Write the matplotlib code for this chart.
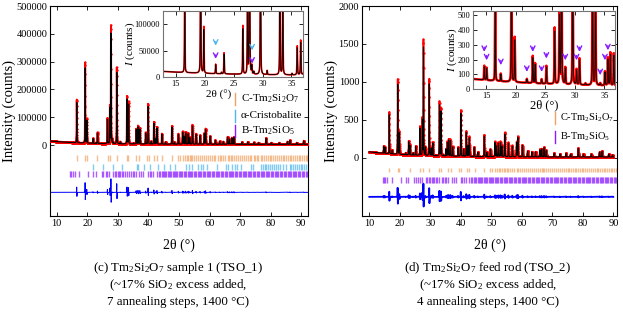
import numpy as np
import matplotlib
matplotlib.use("Agg")
import matplotlib.pyplot as plt

plt.rcParams["font.family"] = ["Liberation Serif", "DejaVu Serif"]
plt.rcParams["mathtext.fontset"] = "custom"
plt.rcParams["mathtext.rm"] = "Liberation Serif"
plt.rcParams["mathtext.it"] = "Liberation Serif:italic"
plt.rcParams["xtick.direction"] = "in"
plt.rcParams["ytick.direction"] = "in"

# ---- data ----
# peak positions (2theta) and net heights above background, TSO_1
pos1 = [16.55, 19.3, 19.85, 21.9, 22.9, 23.35, 26.6, 27.4, 27.75, 28.15, 28.5,
        29.65, 30.8, 33.0, 33.5, 35.1, 36.0, 36.6, 37.2, 39.1, 39.9, 40.9, 41.8,
        42.4, 42.8, 44.4, 45.6, 47.7, 48.5, 49.8, 51.2, 51.6, 52.2, 53.0, 53.5,
        54.4, 55.6, 56.9, 58.3, 58.7, 60.2, 61.9, 63.3, 64.5, 65.9, 66.5, 67.3,
        68.0, 70.6, 72.5, 74.5, 76.0, 78.5, 80.2, 82.8, 85.5, 86.3, 88.5, 90.8]
hgt1 = [155000, 290000, 88000, 18000, 3000, 40000, 92000, 135000, 425000, 16000, 5000,
        275000, 8000, 172000, 152000, 3000, 55000, 66000, 58000, 42000, 145000, 10000, 80000,
        20000, 62000, 38000, 8000, 66000, 8000, 38000, 46000, 30000, 44000, 40000, 25000,
        70000, 38000, 33000, 40000, 56000, 30000, 15000, 11000, 10000, 27000, 20000, 24000,
        27000, 8000, 9000, 7000, 6000, 23000, 6000, 6000, 10000, 15000, 6000, 13000]

# TSO_2
pos2 = [14.7, 15.1, 16.55, 17.5, 19.3, 19.85, 21.9, 22.9, 23.3, 24.4, 25.2, 26.6,
        27.4, 27.75, 28.4, 29.65, 30.3, 30.8, 31.8, 33.0, 33.5, 34.3, 35.1, 35.6,
        36.0, 36.6, 37.3, 39.1, 40.0, 40.9, 41.8, 42.4, 42.8, 44.4, 45.6, 47.7,
        48.5, 49.7, 51.2, 51.6, 52.3, 53.0, 53.5, 54.4, 55.6, 56.9, 58.3, 58.7,
        60.2, 61.9, 63.3, 64.5, 65.9, 66.5, 67.3, 68.0, 70.6, 72.5, 74.5, 76.0,
        78.5, 80.2, 82.8, 85.5, 86.3, 88.5, 89.7]
hgt2 = [97, 85, 550, 52, 990, 305, 27, 185, 136, 30, 122, 383,
        492, 1523, 114, 1012, 105, 180, 12, 718, 631, 15, 96, 190,
        225, 220, 130, 120, 610, 100, 335, 150, 262, 128, 60, 287,
        60, 100, 200, 150, 190, 200, 150, 320, 190, 150, 200, 270,
        160, 80, 70, 70, 100, 110, 130, 90, 50, 40, 50, 40,
        120, 40, 40, 70, 80, 40, 30]

# reflection markers
ticks_c = [16.55, 19.3, 19.85, 23.3, 26.75, 27.45, 29.65, 32.95, 33.45, 35.95, 36.8,
           39.45, 40.1, 41.95, 42.75, 44.6, 47.7, 49.55, 50.35, 51.2, 52.0, 52.6, 53.0,
           53.5, 54.0, 54.4, 55.0, 55.6, 56.2, 56.9, 57.5, 58.3, 58.7, 59.4, 60.2, 60.8,
           61.5, 61.9, 62.6, 63.3, 63.9, 64.5, 65.2, 65.9, 66.5, 67.0, 67.3, 68.0, 68.6,
           69.2, 69.8, 70.6, 71.2, 71.8, 72.5, 73.1, 73.7, 74.5, 75.0, 75.6, 76.0, 76.7,
           77.3, 77.9, 78.5, 79.1, 79.7, 80.2, 80.8, 81.4, 82.0, 82.8, 83.3, 83.9, 84.5,
           85.0, 85.5, 86.3, 86.8, 87.4, 88.0, 88.5, 89.1, 89.7, 90.3, 90.8, 91.4, 91.9]
ticks_cr = [22.0, 25.2, 28.5, 31.4, 36.1, 36.5, 38.5, 40.5, 43.0, 45.1, 47.0, 48.7,
            52.3, 53.4, 54.3, 56.3, 57.1, 57.9, 59.0, 62.3, 65.3, 66.1, 67.2, 68.3,
            69.0, 70.2, 73.4, 74.2, 76.8, 77.4, 78.0, 78.6, 79.2, 79.8, 80.4, 81.0,
            81.7, 82.3, 83.0, 84.0, 84.9, 86.2, 86.8, 87.4, 88.0, 88.6, 89.2, 89.8,
            90.4, 91.0, 91.6]
ticks_b = [14.4, 14.8, 15.3, 15.9, 17.3, 20.3, 22.0, 22.8, 24.7, 25.3, 26.0, 26.6,
           27.2, 28.5, 29.0, 29.5, 30.0, 30.4, 30.8, 31.3, 31.8, 32.3, 32.9, 33.7,
           34.2, 34.8, 35.3, 35.9, 37.0, 37.6, 38.3, 39.9, 40.5, 41.0, 41.6, 42.7,
           43.3, 43.8, 44.3, 44.7, 45.1, 45.5, 45.9, 46.3, 46.7, 47.1, 47.5, 47.9,
           48.3, 48.7, 49.1, 49.5, 49.9, 50.3, 50.7, 51.1, 51.5, 51.9, 52.3, 52.8,
           53.2, 53.6, 54.0, 54.4, 54.8, 55.3, 55.7, 56.1, 56.5, 56.9, 57.3, 57.8,
           58.2, 58.6, 59.0, 59.4, 59.9, 60.3, 60.7, 61.1, 61.5, 62.0, 62.4, 62.8,
           63.2, 63.6, 64.1, 64.5, 64.9, 65.3, 65.7, 66.2, 66.6, 67.0, 67.4, 67.8,
           68.3, 68.7, 69.1, 69.5, 69.9, 70.4, 70.8, 71.2, 71.6, 72.0, 72.5, 72.9,
           73.3, 73.7, 74.1, 74.6, 75.0, 75.4, 75.8, 76.2, 76.7, 77.1, 77.5, 77.9,
           78.3, 78.8, 79.2, 79.6, 80.0, 80.4, 80.9, 81.3, 81.7, 82.1, 82.5, 83.0,
           83.4, 83.8, 84.2, 84.6, 85.1, 85.5, 85.9, 86.3, 86.7, 87.2, 87.6, 88.0,
           88.4, 88.8, 89.3, 89.7, 90.1, 90.5, 90.9, 91.4, 91.8]

# inset arrows (2theta, arrow tip)
arr1_cr = [(21.9, 54000), (28.2, 45000)]
arr1_b = [(21.9, 29000), (28.2, 20000)]
arr2_b = [(14.7, 233), (15.1, 176), (17.5, 143), (21.9, 97), (22.9, 233), (24.4, 97),
          (25.2, 188), (28.4, 176), (30.3, 176), (30.8, 233), (34.3, 75), (35.1, 176),
          (35.6, 244)]

ORANGE = "#f4a261"
CYAN = "#4fb4f0"
PURPLE = "#8a1cff"


def pattern(x, pos, hgt, scale, shift=0.0):
    y = np.zeros_like(x)
    for p, h in zip(pos, hgt):
        w = (0.075 + 0.0009 * p) * scale
        d = 4 * (x - p - shift) ** 2 / w ** 2
        y += h / scale * (0.5 / (1 + d) + 0.5 * np.exp(-np.log(2) * d))
    return y


x1 = np.arange(7.8, 92.2, 0.01)
bg1 = 2500 + 12000 * np.exp(-(x1 - 8) / 12)
obs1 = bg1 + pattern(x1, pos1, hgt1, 1.0)
calc1 = bg1 + pattern(x1, pos1, hgt1, 1.07, 0.007)

x2 = np.arange(10.0, 90.0, 0.01)
bg2 = 10 + 70 * np.exp(-(x2 - 10) / 15)
obs2 = bg2 + pattern(x2, pos2, hgt2, 1.0)
calc2 = bg2 + pattern(x2, pos2, hgt2, 1.07, 0.007)

fig = plt.figure(figsize=(6.23, 3.15), dpi=100)
W, H = 623, 315


def px_axes(l, t, r, b):
    return fig.add_axes([l / W, 1 - b / H, (r - l) / W, (b - t) / H])


def style(ax, fs):
    ax.tick_params(top=True, right=True, labelsize=fs, length=3, width=0.6, pad=2)
    for s in ax.spines.values():
        s.set_linewidth(0.8)


def draw_main(ax, x, obs, calc, off, rows, ms, lw_obs, lw_diff):
    ax.plot(x, obs, color="red", lw=lw_obs, zorder=2)
    ax.plot(x, obs, ls="none", marker="o", ms=ms, mfc="red", mec="none", alpha=0.75, zorder=3)
    ax.plot(x, calc, color="black", lw=0.8, zorder=4)
    ax.plot(x, obs - calc + off, color="blue", lw=lw_diff, zorder=2)
    for t, y0, h, c in rows:
        ax.vlines(t, y0 - h / 2, y0 + h / 2, color=c, lw=1.0, alpha=0.7)


# ---- left panel ----
ax1 = px_axes(50, 6, 308, 216)
draw_main(ax1, x1, obs1, calc1, -170000,
          [(ticks_c, -47000, 24000, ORANGE), (ticks_cr, -79000, 22000, CYAN),
           (ticks_b, -104000, 24000, PURPLE)], 1.6, 1.4, 0.7)
ax1.set_xlim(7.8, 92.2)
ax1.set_ylim(-255000, 500000)
ax1.set_yticks(np.arange(0, 500001, 100000))
ax1.set_xticks(range(10, 91, 10))
style(ax1, 7.5)
ax1.set_ylabel("Intensity (counts)", fontsize=10.5)
ax1.yaxis.set_label_coords((16 - 50) / 258, 0.5)
ax1.set_xlabel("2θ (°)", fontsize=10, labelpad=8)

for yy, lab, c in [(99, "C-Tm$_2$Si$_2$O$_7$", ORANGE), (116, "α-Cristobalite", CYAN),
                   (131, "B-Tm$_2$SiO$_5$", PURPLE)]:
    fig.lines.append(plt.Line2D([235 / W, 235 / W], [1 - (yy - 6) / H, 1 - (yy + 6) / H],
                                color=c, lw=1.0, transform=fig.transFigure))
    fig.text(241 / W, 1 - yy / H, lab, fontsize=8, va="center", ha="left")

# ---- right panel ----
ax2 = px_axes(362, 6, 617, 216)
draw_main(ax2, x2, obs2, calc2, -513,
          [(ticks_c, -158, 58, ORANGE), (ticks_b, -290, 70, PURPLE)], 1.8, 1.2, 1.3)
ax2.set_xlim(7.6, 91.2)
ax2.set_ylim(-765, 2000)
ax2.set_yticks(np.arange(0, 2001, 500))
ax2.set_xticks(range(10, 91, 10))
style(ax2, 7.5)
ax2.set_ylabel("Intensity (counts)", fontsize=10.5)
ax2.yaxis.set_label_coords((338 - 362) / 255, 0.5)
ax2.set_xlabel("2θ (°)", fontsize=10, labelpad=8)

for yy, lab, c in [(118, "C-Tm$_2$Si$_2$O$_7$", ORANGE), (137, "B-Tm$_2$SiO$_5$", PURPLE)]:
    fig.lines.append(plt.Line2D([555 / W, 555 / W], [1 - (yy - 6) / H, 1 - (yy + 6) / H],
                                color=c, lw=1.0, transform=fig.transFigure))
    fig.text(560 / W, 1 - yy / H, lab, fontsize=7.5, va="center", ha="left")

# ---- insets ----
in1 = px_axes(163, 11, 303, 77)
in1.plot(x1, obs1, color="red", lw=1.2)
in1.plot(x1, calc1, color="black", lw=0.6)
in1.set_xlim(12.8, 37.0)
in1.set_ylim(0, 125000)
in1.set_xticks(range(15, 36, 5))
in1.set_yticks([0, 50000, 100000])
style(in1, 6)
for s in in1.spines.values():
    s.set_color("0.45")
in1.set_ylabel("$\\it{I}$ (counts)", fontsize=8)
in1.yaxis.set_label_coords((137 - 163) / 140, 0.5)
in1.set_xlabel("2θ (°)", fontsize=8)
in1.xaxis.set_label_coords(0.4, -0.2)
for (xa, ya), c in [(a, CYAN) for a in arr1_cr] + [(a, PURPLE) for a in arr1_b]:
    in1.annotate("", xy=(xa, ya), xytext=(xa, ya + 18000),
                 arrowprops=dict(arrowstyle="->", color=c, lw=1.0, mutation_scale=8))

in2 = px_axes(473, 11, 615, 89)
in2.plot(x2, obs2, color="red", lw=1.8)
in2.plot(x2, calc2, color="black", lw=0.6)
in2.set_xlim(12.8, 36.8)
in2.set_ylim(0, 530)
in2.set_xticks(range(15, 36, 5))
in2.set_yticks(range(0, 501, 100))
style(in2, 6)
for s in in2.spines.values():
    s.set_color("0.45")
in2.set_ylabel("$\\it{I}$ (counts)", fontsize=8)
in2.yaxis.set_label_coords((459 - 473) / 142, 0.5)
in2.set_xlabel("2θ (°)", fontsize=9, labelpad=0)
for xa, ya in arr2_b:
    in2.annotate("", xy=(xa, ya), xytext=(xa, ya + 70),
                 arrowprops=dict(arrowstyle="->", color=PURPLE, lw=1.0, mutation_scale=8))

# ---- captions ----
cap1 = ["(c) Tm$_2$Si$_2$O$_7$ sample 1 (TSO_1)", "(~17% SiO$_2$ excess added,",
        "7 annealing steps, 1400 °C)"]
cap2 = ["(d) Tm$_2$Si$_2$O$_7$ feed rod (TSO_2)", "(~17% SiO$_2$ excess added,",
        "4 annealing steps, 1400 °C)"]
for i, yy in enumerate([268, 285, 302]):
    fig.text(178 / W, 1 - yy / H, cap1[i], fontsize=9.3, ha="center", va="center")
    fig.text(488 / W, 1 - yy / H, cap2[i], fontsize=9.3, ha="center", va="center")

fig.savefig("out.png", dpi=100)
